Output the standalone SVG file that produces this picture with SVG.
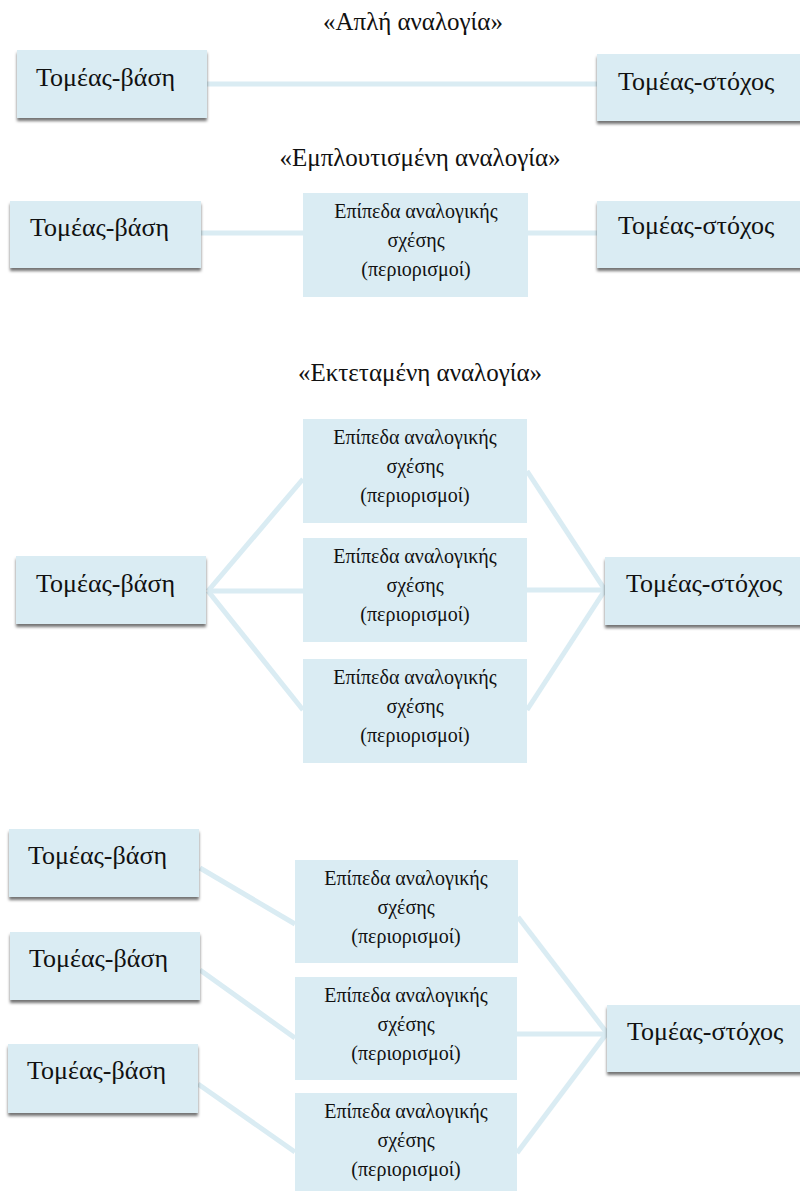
<svg xmlns="http://www.w3.org/2000/svg" width="800" height="1193" viewBox="0 0 800 1193">
<defs>
<filter id="sh" x="-10%" y="-10%" width="120%" height="130%">
<feDropShadow dx="0" dy="3" stdDeviation="1.8" flood-color="#000" flood-opacity="0.55"/>
</filter>
</defs>
<style>
.b{fill:#DAECF3;filter:url(#sh)}
.m{fill:#DAECF3}
.c{stroke:#DAECF3;stroke-width:5;fill:none}
.t{font-family:"Liberation Serif",serif;font-size:26px;fill:#111}
.s{font-family:"Liberation Serif",serif;font-size:20px;fill:#111;text-anchor:middle}
.h{font-family:"Liberation Serif",serif;font-size:25px;fill:#111;text-anchor:middle}
</style>
<rect width="800" height="1193" fill="#fff"/>
<g id="titles">
<text class="h" x="413" y="30">«Απλή αναλογία»</text>
<text class="h" x="420" y="166">«Εμπλουτισμένη αναλογία»</text>
<text class="h" x="420" y="381">«Εκτεταμένη αναλογία»</text>
</g>
<g id="connectors">
<line class="c" x1="207" y1="84" x2="597" y2="84"/>
<line class="c" x1="201" y1="233" x2="303" y2="233"/>
<line class="c" x1="528" y1="233" x2="597" y2="233"/>
<line class="c" x1="208" y1="591" x2="303" y2="479"/>
<line class="c" x1="208" y1="591" x2="303" y2="591"/>
<line class="c" x1="208" y1="591" x2="303" y2="710"/>
<line class="c" x1="527" y1="471" x2="605" y2="590"/>
<line class="c" x1="527" y1="590" x2="605" y2="590"/>
<line class="c" x1="527" y1="710" x2="605" y2="590"/>
<line class="c" x1="200" y1="868" x2="295" y2="924"/>
<line class="c" x1="200" y1="970" x2="295" y2="1038"/>
<line class="c" x1="198" y1="1084" x2="295" y2="1152"/>
<line class="c" x1="518" y1="917" x2="607" y2="1033"/>
<line class="c" x1="517" y1="1034" x2="607" y2="1034"/>
<line class="c" x1="517" y1="1153" x2="607" y2="1033"/>
</g>
<g id="n1"><rect class="b" x="17" y="50" width="190" height="68"/><text class="t" x="36" y="86">Τομέας-βάση</text></g>
<g id="n2"><rect class="b" x="597" y="54" width="215" height="67"/><text class="t" x="618" y="90">Τομέας-στόχος</text></g>
<g id="n3"><rect class="b" x="10" y="201" width="191" height="67"/><text class="t" x="30" y="236">Τομέας-βάση</text></g>
<g id="n4"><rect class="m" x="303" y="193" width="225" height="104"/><text class="s" x="416" y="218">Επίπεδα αναλογικής</text><text class="s" x="416" y="247">σχέσης</text><text class="s" x="416" y="276">(περιορισμοί)</text></g>
<g id="n5"><rect class="b" x="597" y="201" width="215" height="67"/><text class="t" x="618" y="234">Τομέας-στόχος</text></g>
<g id="n6"><rect class="b" x="16" y="556" width="190" height="68"/><text class="t" x="36" y="592">Τομέας-βάση</text></g>
<g id="n7"><rect class="m" x="303" y="419" width="224" height="104"/><text class="s" x="415" y="444">Επίπεδα αναλογικής</text><text class="s" x="415" y="473">σχέσης</text><text class="s" x="415" y="502">(περιορισμοί)</text></g>
<g id="n8"><rect class="m" x="303" y="538" width="224" height="104"/><text class="s" x="415" y="563">Επίπεδα αναλογικής</text><text class="s" x="415" y="592">σχέσης</text><text class="s" x="415" y="621">(περιορισμοί)</text></g>
<g id="n9"><rect class="m" x="303" y="659" width="224" height="104"/><text class="s" x="415" y="684">Επίπεδα αναλογικής</text><text class="s" x="415" y="713">σχέσης</text><text class="s" x="415" y="742">(περιορισμοί)</text></g>
<g id="n10"><rect class="b" x="605" y="557" width="210" height="68"/><text class="t" x="626" y="592">Τομέας-στόχος</text></g>
<g id="n11"><rect class="b" x="9" y="829" width="190" height="68"/><text class="t" x="28" y="864">Τομέας-βάση</text></g>
<g id="n12"><rect class="b" x="10" y="932" width="190" height="68"/><text class="t" x="29" y="967">Τομέας-βάση</text></g>
<g id="n13"><rect class="b" x="8" y="1044" width="190" height="69"/><text class="t" x="27" y="1079">Τομέας-βάση</text></g>
<g id="n14"><rect class="m" x="295" y="860" width="223" height="103"/><text class="s" x="406" y="885">Επίπεδα αναλογικής</text><text class="s" x="406" y="914">σχέσης</text><text class="s" x="406" y="943">(περιορισμοί)</text></g>
<g id="n15"><rect class="m" x="295" y="977" width="222" height="103"/><text class="s" x="406" y="1002">Επίπεδα αναλογικής</text><text class="s" x="406" y="1031">σχέσης</text><text class="s" x="406" y="1060">(περιορισμοί)</text></g>
<g id="n16"><rect class="m" x="295" y="1093" width="222" height="98"/><text class="s" x="406" y="1118">Επίπεδα αναλογικής</text><text class="s" x="406" y="1147">σχέσης</text><text class="s" x="406" y="1176">(περιορισμοί)</text></g>
<g id="n17"><rect class="b" x="607" y="1005" width="210" height="67"/><text class="t" x="627" y="1040">Τομέας-στόχος</text></g>
</svg>
